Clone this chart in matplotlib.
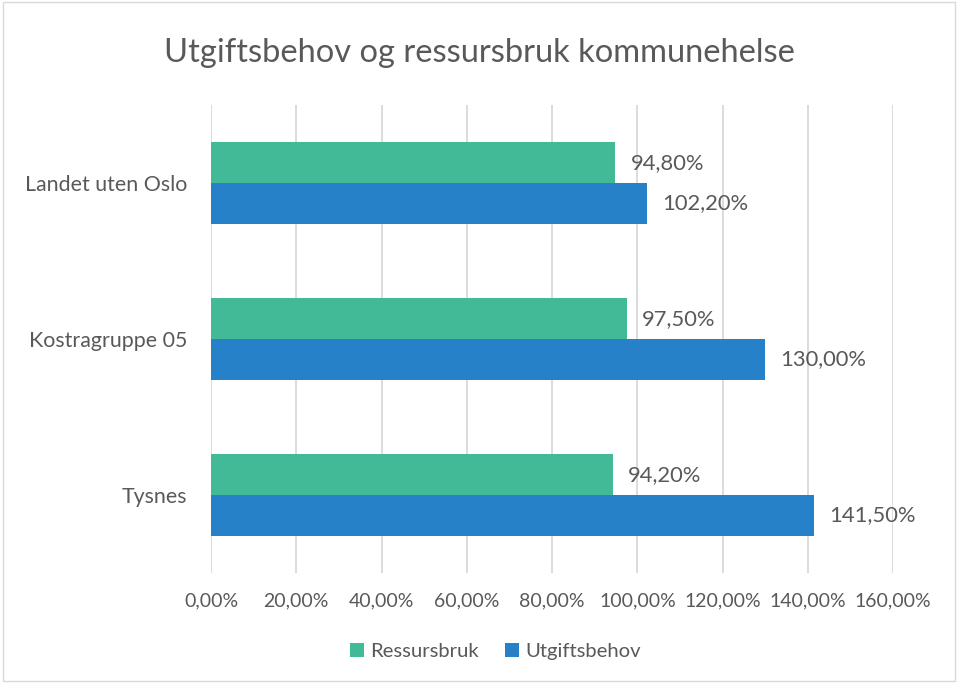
import numpy as np
import matplotlib.pyplot as plt
from matplotlib.ticker import FuncFormatter

categories = ["Tysnes", "Kostragruppe 05", "Landet uten Oslo"]
ressursbruk = [94.2, 97.5, 94.8]
utgiftsbehov = [141.5, 130.0, 102.2]

green = "#43BA97"
blue = "#2781C8"
txt = "#595959"

plt.rcParams['font.family'] = ['Lato', 'DejaVu Sans']

fig = plt.figure(figsize=(9.58, 6.83), dpi=100)
ax = fig.add_axes([0.2203, 0.161, 0.712, 0.6853])

y = np.arange(len(categories))
h = 0.26
b1 = ax.barh(y + h / 2, ressursbruk, height=h, color=green, zorder=3)
b2 = ax.barh(y - h / 2, utgiftsbehov, height=h, color=blue, zorder=3)

def pct(v):
    return f"{v:.2f}".replace(".", ",") + "%"

for bars, vals in ((b1, ressursbruk), (b2, utgiftsbehov)):
    for bar, v in zip(bars, vals):
        ax.annotate(pct(v), (v, bar.get_y() + bar.get_height() / 2),
                    xytext=(11, 0), textcoords="offset points",
                    va="center", ha="left", fontsize=15.8, color=txt)

ax.set_xlim(0, 160)
ax.set_ylim(-0.5, 2.5)
ax.set_xticks(np.arange(0, 161, 20))
ax.xaxis.set_major_formatter(FuncFormatter(lambda v, p: pct(v)))
ax.set_yticks(y)
ax.set_yticklabels(categories)
ax.tick_params(axis="both", length=0, colors=txt)
ax.tick_params(axis="x", pad=14, labelsize=14)
ax.tick_params(axis="y", pad=17, labelsize=15.4)
ax.grid(axis="x", color="#D9D9D9", lw=1.3, zorder=0)
for s in ax.spines.values():
    s.set_visible(False)

fig.suptitle("Utgiftsbehov og ressursbruk kommunehelse", y=0.945,
             fontsize=23.5, color=txt)

fig.legend([b1, b2], ["Ressursbruk", "Utgiftsbehov"], loc="center",
           bbox_to_anchor=(0.517, 0.046), ncol=2, frameon=False,
           fontsize=14.6, labelcolor=txt, handlelength=0.7, handleheight=0.7,
           handletextpad=0.3, columnspacing=1.3)

fig.patches.append(plt.Rectangle((0.003, 0.003), 0.994, 0.994, transform=fig.transFigure,
                                 fill=False, edgecolor="#D9D9D9", lw=1))

fig.savefig("out.png", dpi=100)
